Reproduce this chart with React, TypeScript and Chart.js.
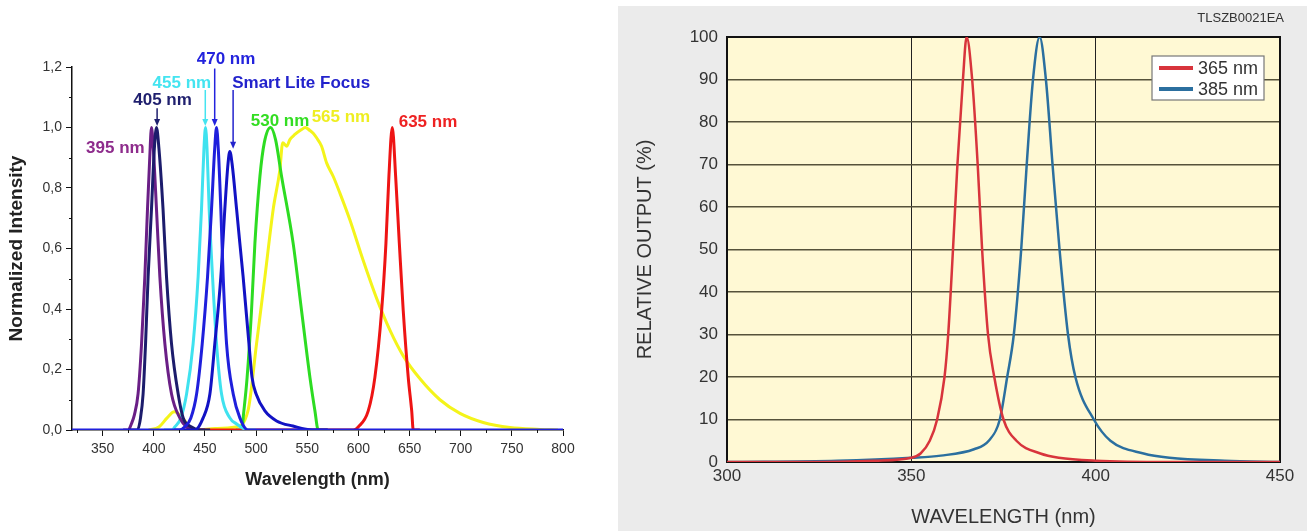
import React, { useEffect, useRef } from 'react';
import { Chart, registerables } from 'chart.js';
Chart.register(...registerables);

const FONT = '"Liberation Sans", Arial, Helvetica, sans-serif';

// ---------- Left chart data ----------
const leftXTicks = [350, 400, 450, 500, 550, 600, 650, 700, 750, 800];
const leftXMinor = [325, 375, 425, 475, 525, 575, 625, 675, 725, 775];
const leftYTicks = [0, 0.2, 0.4, 0.6, 0.8, 1.0, 1.2];
const leftYMinor = [0.1, 0.3, 0.5, 0.7, 0.9, 1.1];

const wl395 = [370, 375, 378, 381, 384.6, 388, 391.2, 393.8, 396, 397.7, 399.5, 402.6, 405.9, 410.8, 417.3, 425.4, 432, 440, 450];
const int395 = [0, 0, 0.02, 0.05, 0.12, 0.285, 0.506, 0.73, 0.9, 1.0, 0.93, 0.73, 0.506, 0.285, 0.119, 0.04, 0.01, 0, 0];

const wl405 = [375, 384, 387, 389.5, 391.9, 394.4, 397.7, 400.5, 402.6, 405, 409, 412.4, 417.3, 423.8, 428.7, 436.9, 445, 455];
const int405 = [0, 0, 0.04, 0.119, 0.285, 0.506, 0.73, 0.93, 1.0, 0.93, 0.73, 0.506, 0.285, 0.119, 0.04, 0.01, 0, 0];

const wl455 = [410, 418, 420.5, 426.4, 432, 438.4, 443.3, 446.6, 449, 450.5, 452, 454.1, 457.4, 461.3, 466.2, 474.3, 481, 487.3, 492, 500];
const int455 = [0, 0, 0.01, 0.04, 0.119, 0.285, 0.506, 0.73, 0.93, 1.0, 0.93, 0.73, 0.506, 0.285, 0.119, 0.04, 0.02, 0.005, 0, 0];

const wl470 = [320, 425, 430, 436.2, 441.8, 447.3, 452.5, 456.4, 459.5, 461.3, 463, 465.5, 467.8, 471.1, 477.6, 484.1, 492, 800];
const int470 = [0, 0, 0.01, 0.04, 0.119, 0.285, 0.506, 0.73, 0.93, 1.0, 0.93, 0.73, 0.506, 0.285, 0.119, 0.04, 0, 0];

const wlSLF = [420, 440, 448.2, 454.8, 459.6, 465.5, 469.4, 472.5, 474.3, 476.5, 480.9, 484, 487.3, 493, 496, 500, 508.6, 520, 536, 555, 570];
const intSLF = [0, 0, 0.04, 0.119, 0.285, 0.506, 0.73, 0.88, 0.921, 0.88, 0.73, 0.62, 0.506, 0.285, 0.174, 0.119, 0.063, 0.03, 0.013, 0, 0];

const wl530 = [480, 485.8, 488, 491.2, 495.5, 498.8, 503.7, 508, 514.1, 519, 524.9, 536.2, 544.4, 552.6, 557.5, 560.7, 570];
const int530 = [0, 0, 0.063, 0.174, 0.395, 0.617, 0.838, 0.95, 1.0, 0.96, 0.838, 0.617, 0.395, 0.174, 0.063, 0, 0];

const wl565 = [395, 405, 413, 420, 428, 435, 442, 460, 480, 492, 500.4, 508.6, 516.7, 523.2, 526, 529.8, 533, 537.9, 544.4, 548, 552.6, 556, 559.1, 564, 568.9, 575.4, 581.9, 591.7, 604.7, 617.8, 630.8, 643.8, 660, 679.7, 699.3, 722, 748.2, 777.5, 795];
const int565 = [0, 0.01, 0.04, 0.06, 0.04, 0.01, 0, 0.005, 0.01, 0.063, 0.285, 0.506, 0.73, 0.86, 0.95, 0.938, 0.96, 0.977, 0.993, 1.0, 0.99, 0.98, 0.966, 0.938, 0.883, 0.838, 0.783, 0.694, 0.56, 0.435, 0.33, 0.245, 0.17, 0.1, 0.055, 0.025, 0.008, 0.002, 0];

const wl635 = [430, 595, 599.8, 609.6, 616.1, 622.7, 626.9, 629.8, 633.1, 636.4, 640, 643.8, 648.7, 652.1, 653.6, 660];
const int635 = [0, 0, 0.01, 0.063, 0.174, 0.395, 0.617, 0.838, 1.0, 0.838, 0.617, 0.395, 0.174, 0.063, 0, 0];

const leftLabels = ['470 nm', 'Smart Lite Focus', '405 nm', '395 nm', '455 nm', '635 nm', '530 nm', '565 nm'];

// annotation texts (data coordinates)
const annTexts = ['395 nm', '405 nm', '455 nm', '470 nm', 'Smart Lite Focus', '530 nm', '565 nm', '635 nm'];
const annWl = [362.4, 408.5, 427.4, 470.6, 476.6, 523.4, 582.9, 668];
const annInt = [0.93, 1.09, 1.147, 1.225, 1.147, 1.02, 1.033, 1.018];
const arrowWl = [403.2, 450.3, 459.5, 477.5];
const arrowFrom = [1.064, 1.124, 1.195, 1.124];
const arrowTo = [1.005, 1.005, 1.005, 0.93];

// ---------- Right chart data ----------
const rightXTicks = [300, 350, 400, 450];
const rightYTicks = [0, 10, 20, 30, 40, 50, 60, 70, 80, 90, 100];

const wl365 = [300, 320, 340, 350, 352.5, 355, 357, 359, 360, 361.3, 362.5, 364, 365, 366.5, 368, 369.2, 370.8, 372.5, 375, 378.5, 385, 390, 400, 420, 450];
const out365 = [0, 0, 0.3, 1, 2, 5, 10, 20, 30, 50, 70, 90, 100, 90, 70, 50, 30, 20, 10, 5, 2, 1, 0.3, 0, 0];

const wl385 = [300, 330, 350, 358, 367, 371, 374, 376, 377.8, 379.8, 381.3, 383, 384.8, 386.5, 388.3, 390.2, 392.5, 394.5, 399.5, 404, 413, 420, 435, 450];
const out385 = [0, 0.3, 1, 1.5, 3, 5, 10, 20, 30, 50, 70, 90, 100, 90, 70, 50, 30, 20, 10, 5, 2, 1, 0.3, 0];

const rightLabels = ['365 nm', '385 nm'];

const pts = (xs: number[], ys: number[]) => xs.map((x, i) => ({ x, y: ys[i] }));

export default function App() {
  const leftRef = useRef<HTMLCanvasElement>(null);
  const rightRef = useRef<HTMLCanvasElement>(null);

  useEffect(() => {
    Chart.defaults.font.family = FONT;

    const leftColors = ['#1f1fdc', '#1212c4', '#1c1c6c', '#6a1f86', '#3fe2ef', '#ee1414', '#2ddc22', '#f4f41a'];
    const leftSeries = [
      [wl470, int470], [wlSLF, intSLF], [wl405, int405], [wl395, int395],
      [wl455, int455], [wl635, int635], [wl530, int530], [wl565, int565],
    ];
    const annColors = ['#8e2c8c', '#1f1f6e', '#44e4f0', '#2323dd', '#2323cc', '#33dd22', '#eeee22', '#ee2222'];
    const annAlign = ['center', 'center', 'center', 'center', 'left', 'center', 'center', 'center'];
    const arrowColors = ['#1f1f6e', '#44e4f0', '#2323dd', '#2323cc'];

    const leftPlugin = {
      id: 'leftExtras',
      afterDraw(chart: any) {
        const { ctx, scales: { x, y }, chartArea } = chart;
        ctx.save();
        // minor ticks
        ctx.strokeStyle = '#111';
        ctx.lineWidth = 1;
        leftXMinor.forEach((v) => {
          const px = Math.round(x.getPixelForValue(v)) + 0.5;
          ctx.beginPath();
          ctx.moveTo(px, chartArea.bottom);
          ctx.lineTo(px, chartArea.bottom + 3);
          ctx.stroke();
        });
        leftYMinor.forEach((v) => {
          const py = Math.round(y.getPixelForValue(v)) + 0.5;
          ctx.beginPath();
          ctx.moveTo(chartArea.left - 3, py);
          ctx.lineTo(chartArea.left, py);
          ctx.stroke();
        });
        // annotation texts
        ctx.font = `bold 17px ${FONT}`;
        ctx.textBaseline = 'middle';
        annTexts.forEach((t, i) => {
          ctx.fillStyle = annColors[i];
          ctx.textAlign = annAlign[i];
          ctx.fillText(t, x.getPixelForValue(annWl[i]), y.getPixelForValue(annInt[i]));
        });
        // arrows
        arrowWl.forEach((w, i) => {
          const px = x.getPixelForValue(w);
          const y1 = y.getPixelForValue(arrowFrom[i]);
          const y2 = y.getPixelForValue(arrowTo[i]);
          ctx.strokeStyle = arrowColors[i];
          ctx.fillStyle = arrowColors[i];
          ctx.lineWidth = 1.5;
          ctx.beginPath();
          ctx.moveTo(px, y1);
          ctx.lineTo(px, y2 - 4);
          ctx.stroke();
          ctx.beginPath();
          ctx.moveTo(px - 3, y2 - 7);
          ctx.lineTo(px + 3, y2 - 7);
          ctx.lineTo(px, y2);
          ctx.closePath();
          ctx.fill();
        });
        ctx.restore();
      },
    };

    const c1 = new Chart(leftRef.current!, {
      type: 'line',
      data: {
        datasets: leftSeries.map((s, i) => ({
          label: leftLabels[i],
          data: pts(s[0], s[1]),
          borderColor: leftColors[i],
          borderWidth: 3,
          pointRadius: 0,
          fill: false,
          cubicInterpolationMode: 'monotone',
        })),
      },
      options: {
        animation: false,
        responsive: true,
        maintainAspectRatio: false,
        parsing: false,
        layout: { padding: { left: 0, top: 67, right: 52, bottom: 0 } },
        plugins: { legend: { display: false }, tooltip: { enabled: false } },
        scales: {
          x: {
            type: 'linear',
            min: 320,
            max: 800,
            afterBuildTicks: (s: any) => { s.ticks = leftXTicks.map((v) => ({ value: v })); },
            afterFit: (s: any) => { s.height = 101; },
            border: { display: true, color: '#111', width: 1.5 },
            grid: { drawOnChartArea: false, drawTicks: true, tickLength: 6, color: '#111' },
            ticks: { color: '#333', font: { size: 14 }, padding: 5, maxRotation: 0 },
            title: { display: true, text: 'Wavelength (nm)', color: '#222', font: { size: 18, weight: 'bold' }, padding: { top: 0, bottom: 40 } },
          },
          y: {
            type: 'linear',
            min: 0,
            max: 1.2,
            afterBuildTicks: (s: any) => { s.ticks = leftYTicks.map((v) => ({ value: v })); },
            afterFit: (s: any) => { s.width = 72; },
            border: { display: true, color: '#111', width: 1.5 },
            grid: { drawOnChartArea: false, drawTicks: true, tickLength: 6, color: '#111' },
            ticks: { color: '#333', font: { size: 14 }, padding: 4, callback: (v: any) => Number(v).toFixed(1).replace('.', ',') },
            title: { display: true, text: 'Normalized Intensity', color: '#222', font: { size: 19, weight: 'bold' }, padding: { top: 5, bottom: 0 } },
          },
        },
      } as any,
      plugins: [leftPlugin],
    });

    const rightColors = ['#d8343c', '#2b6f9f'];
    const rightPlugin = {
      id: 'rightExtras',
      beforeDraw(chart: any) {
        const { ctx, chartArea: a } = chart;
        ctx.save();
        ctx.fillStyle = '#fff9d4';
        ctx.fillRect(a.left, a.top, a.right - a.left, a.bottom - a.top);
        ctx.restore();
      },
      beforeDatasetsDraw(chart: any) {
        const { ctx, chartArea: a } = chart;
        ctx.save();
        ctx.strokeStyle = '#111';
        ctx.lineWidth = 2;
        ctx.strokeRect(a.left, a.top, a.right - a.left, a.bottom - a.top);
        ctx.restore();
      },
      afterDraw(chart: any) {
        const { ctx, chartArea: a } = chart;
        ctx.save();
        // code label
        ctx.font = `13px ${FONT}`;
        ctx.fillStyle = '#333';
        ctx.textAlign = 'right';
        ctx.textBaseline = 'middle';
        ctx.fillText('TLSZB0021EA', a.right + 4, a.top - 19);
        // legend box
        const bx = a.right - 128;
        const by = a.top + 19;
        ctx.fillStyle = '#ffffff';
        ctx.fillRect(bx, by, 112, 44);
        ctx.strokeStyle = '#777';
        ctx.lineWidth = 1.2;
        ctx.strokeRect(bx, by, 112, 44);
        ctx.font = `18px ${FONT}`;
        ctx.textAlign = 'left';
        chart.data.datasets.forEach((ds: any, i: number) => {
          const yy = by + 12 + i * 21;
          ctx.strokeStyle = ds.borderColor;
          ctx.lineWidth = 4;
          ctx.beginPath();
          ctx.moveTo(bx + 7, yy);
          ctx.lineTo(bx + 41, yy);
          ctx.stroke();
          ctx.fillStyle = '#333';
          ctx.fillText(ds.label, bx + 46, yy + 1);
        });
        ctx.restore();
      },
    };

    const c2 = new Chart(rightRef.current!, {
      type: 'line',
      data: {
        datasets: [
          { label: rightLabels[0], data: pts(wl365, out365), borderColor: rightColors[0], borderWidth: 2.5, pointRadius: 0, fill: false, cubicInterpolationMode: 'monotone' },
          { label: rightLabels[1], data: pts(wl385, out385), borderColor: rightColors[1], borderWidth: 2.5, pointRadius: 0, fill: false, cubicInterpolationMode: 'monotone' },
        ],
      },
      options: {
        animation: false,
        responsive: true,
        maintainAspectRatio: false,
        parsing: false,
        layout: { padding: { left: 0, top: 31, right: 27, bottom: 0 } },
        plugins: { legend: { display: false }, tooltip: { enabled: false } },
        scales: {
          x: {
            type: 'linear',
            min: 300,
            max: 450,
            afterBuildTicks: (s: any) => { s.ticks = rightXTicks.map((v) => ({ value: v })); },
            afterFit: (s: any) => { s.height = 69; },
            border: { display: false },
            grid: { drawOnChartArea: true, drawTicks: false, color: '#222', lineWidth: 1 },
            ticks: { color: '#333', font: { size: 17 }, padding: 4, maxRotation: 0 },
            title: { display: true, text: 'WAVELENGTH (nm)', color: '#333', font: { size: 20 }, padding: { top: 0, bottom: 2 } },
          },
          y: {
            type: 'linear',
            min: 0,
            max: 100,
            afterBuildTicks: (s: any) => { s.ticks = rightYTicks.map((v) => ({ value: v })); },
            afterFit: (s: any) => { s.width = 109; },
            border: { display: false },
            grid: { drawOnChartArea: true, drawTicks: false, color: '#56523a', lineWidth: 1.5 },
            ticks: { color: '#333', font: { size: 17 }, padding: 9 },
            title: { display: true, text: 'RELATIVE OUTPUT (%)', color: '#333', font: { size: 20 }, padding: { top: 15, bottom: 0 } },
          },
        },
      } as any,
      plugins: [rightPlugin],
    });

    return () => {
      c1.destroy();
      c2.destroy();
    };
  }, []);

  return (
    <div style={{ position: 'fixed', left: 0, top: 0, width: 1307, height: 531, background: '#fff', overflow: 'hidden' }}>
      <div style={{ position: 'absolute', left: 0, top: 0, width: 615, height: 531 }}>
        <canvas ref={leftRef} />
      </div>
      <div style={{ position: 'absolute', left: 618, top: 6, width: 689, height: 525, background: '#ebebeb' }}>
        <canvas ref={rightRef} />
      </div>
    </div>
  );
}
